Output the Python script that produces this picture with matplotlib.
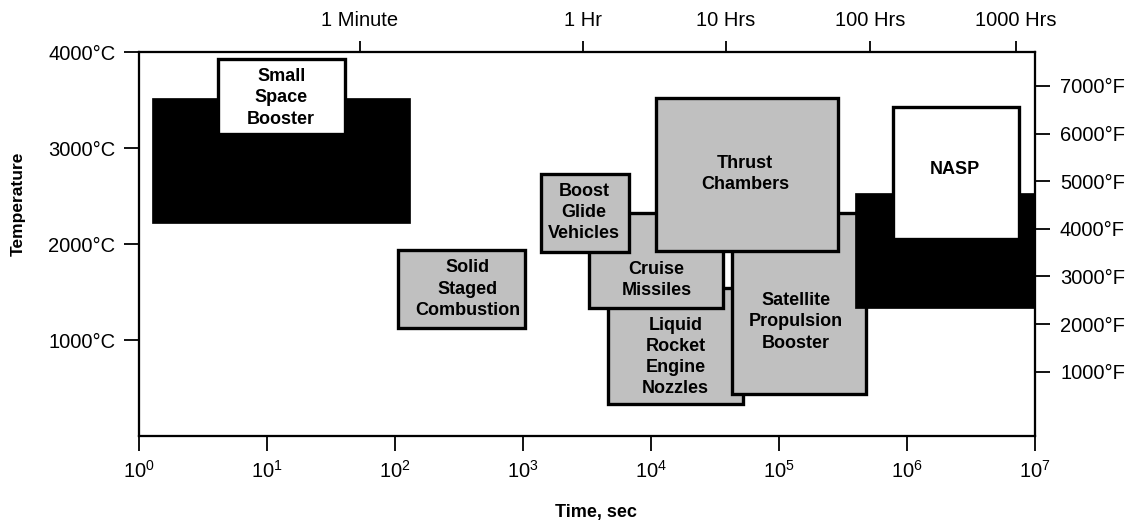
import matplotlib
matplotlib.use("Agg")
import matplotlib.pyplot as plt
from matplotlib.patches import Rectangle

plt.rcParams['font.family'] = ['Liberation Sans', 'DejaVu Sans']
plt.rcParams['mathtext.fontset'] = 'custom'
plt.rcParams['mathtext.rm'] = 'Liberation Sans'

# ---------------- data ----------------
# application regions: time range (s) and temperature range (deg C)
region_names = ["Liquid\nRocket\nEngine\nNozzles", "Cruise\nMissiles",
                "Satellite\nPropulsion\nBooster", "Boost\nGlide\nVehicles",
                "Thrust\nChambers", "Solid\nStaged\nCombustion"]
region_t0 = [4615, 3280, 42950, 1383, 10940, 105.5]
region_t1 = [52300, 36500, 478000, 6730, 289000, 1037]
region_c0 = [333, 1336, 438, 1920, 1927, 1128]
region_c1 = [1542, 2325, 2322, 2729, 3524, 1938]
region_label_t = [15590, 11040, 135800, 2997, 54200, 370]
region_label_c = [823, 1629, 1188, 2326, 2727, 1531]

# black "operating" bands with white "goal" boxes
band_names = ["Small\nSpace\nBooster", "NASP"]
band_t0 = [1.26, 392500]
band_t1 = [131, 1.0e7]
band_c0 = [2222, 1330]
band_c1 = [3524, 2528]
goal_t0 = [4.14, 778000]
goal_t1 = [40.7, 7.5e6]
goal_c0 = [3146, 2049]
goal_c1 = [3924, 3427]
band_label_t = [12.9, 2.37e6]
band_label_c = [3521, 2778]

# axes ticks
x_ticks = [1e0, 1e1, 1e2, 1e3, 1e4, 1e5, 1e6, 1e7]
x_tick_labels = [r"$\mathregular{10^{%d}}$" % i for i in range(8)]
c_ticks = [1000, 2000, 3000, 4000]
c_tick_labels = ["1000°C", "2000°C", "3000°C", "4000°C"]
top_ticks = [53.3, 2958, 38350, 514000, 7.1e6]
top_tick_labels = ["1 Minute", "1 Hr", "10 Hrs", "100 Hrs", "1000 Hrs"]
f_ticks = [1000, 2000, 3000, 4000, 5000, 6000, 7000]
f_tick_labels = ["%d°F" % f for f in f_ticks]
f_limits = (-351, 7713)

# ---------------- figure ----------------
W, H = 1138, 525
fig = plt.figure(figsize=(W / 100, H / 100), dpi=100)
L, R, T, B = 139, 1035, 52, 436
ax = fig.add_axes([L / W, 1 - B / H, (R - L) / W, (B - T) / H])
ax.set_xscale('log')
ax.set_xlim(1, 1e7)
ax.set_ylim(0, 4000)

GRAY = '#c0c0c0'
EW = 2.4
LS = 1.32
FS = 13
z = 2
for name, t0, t1, c0, c1, lt, lc in zip(region_names, region_t0, region_t1,
                                        region_c0, region_c1,
                                        region_label_t, region_label_c):
    ax.add_patch(Rectangle((t0, c0), t1 - t0, c1 - c0, facecolor=GRAY,
                           edgecolor='black', linewidth=EW, zorder=z))
    ax.text(lt, lc, name, ha='center', va='center', ma='center',
            fontsize=FS, fontweight='bold', linespacing=LS, zorder=20)
    z += 1

for name, t0, t1, c0, c1, g0, g1, gc0, gc1, lt, lc in zip(
        band_names, band_t0, band_t1, band_c0, band_c1,
        goal_t0, goal_t1, goal_c0, goal_c1, band_label_t, band_label_c):
    ax.add_patch(Rectangle((t0, c0), t1 - t0, c1 - c0, facecolor='black',
                           edgecolor='black', linewidth=0.5, zorder=z))
    z += 1
    ax.add_patch(Rectangle((g0, gc0), g1 - g0, gc1 - gc0, facecolor='white',
                           edgecolor='black', linewidth=EW, zorder=z))
    z += 1
    ax.text(lt, lc, name, ha='center', va='center', ma='center',
            fontsize=FS, fontweight='bold', linespacing=LS, zorder=20)

ax.set_xticks(x_ticks)
ax.set_xticklabels(x_tick_labels)
ax.xaxis.set_minor_locator(matplotlib.ticker.NullLocator())
ax.set_yticks(c_ticks)
ax.set_yticklabels(c_tick_labels)
ax.tick_params(axis='x', direction='out', length=11, width=1.3, pad=6,
               labelsize=14.5)
ax.tick_params(axis='y', direction='out', length=11, width=1.3, pad=6,
               labelsize=14.5)

axT = ax.twiny()
axT.set_xscale('log')
axT.set_xlim(1, 1e7)
axT.set_xticks(top_ticks)
axT.set_xticklabels(top_tick_labels)
axT.xaxis.set_minor_locator(matplotlib.ticker.NullLocator())
axT.tick_params(axis='x', direction='out', length=8, width=1.3, pad=8,
                labelsize=14.5)

axR = ax.twinx()
axR.set_ylim(*f_limits)
axR.set_yticks(f_ticks)
axR.set_yticklabels(f_tick_labels)
axR.tick_params(axis='y', direction='out', length=11, width=1.3, pad=7,
                labelsize=14.5)

for a in (ax, axT, axR):
    for s in a.spines.values():
        s.set_linewidth(1.5)

fig.text(18 / W, 1 - 204 / H, "Temperature", rotation=90, ha='center',
         va='center', fontsize=12.5, fontweight='bold')
fig.text(596 / W, 1 - 513 / H, "Time, sec", ha='center', va='center',
         fontsize=13, fontweight='bold')

fig.savefig("out.png", dpi=100)
